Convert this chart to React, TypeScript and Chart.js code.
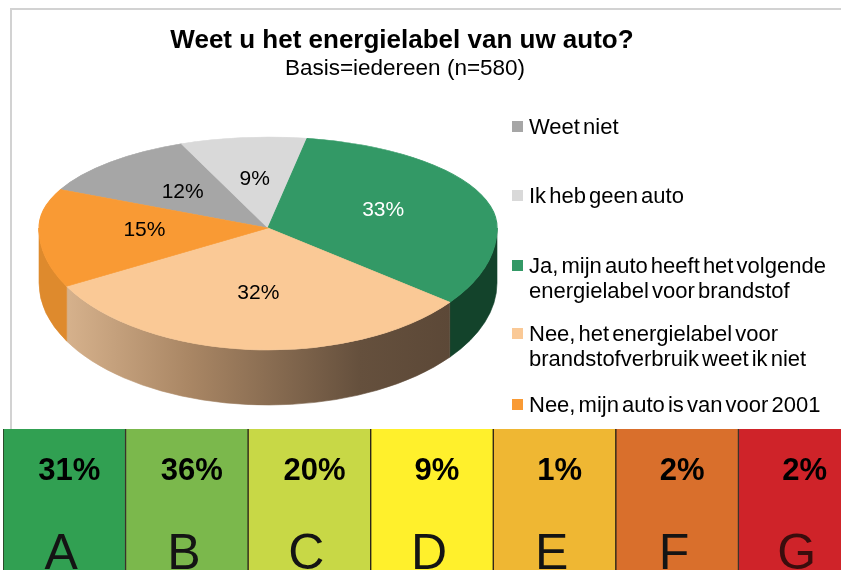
import React, { useEffect, useRef } from 'react';
import { Chart, registerables } from 'chart.js';

Chart.register(...registerables);

// ---- Pie data ----
const pieLabels = [
  'Weet niet',
  'Ik heb geen auto',
  'Ja, mijn auto heeft het volgende energielabel voor brandstof',
  'Nee, het energielabel voor brandstofverbruik weet ik niet',
  'Nee, mijn auto is van voor 2001',
];
const legendLines = [
  ['Weet niet'],
  ['Ik heb geen auto'],
  ['Ja, mijn auto heeft het volgende', 'energielabel voor brandstof'],
  ['Nee, het energielabel voor', 'brandstofverbruik weet ik niet'],
  ['Nee, mijn auto is van voor 2001'],
];
const pieValues = [12, 9, 33, 32, 15];
const pieColors = ['#a6a6a6', '#d9d9d9', '#339966', '#fac996', '#f99a34'];
const pieSideColors = ['#7a7a7a', '#a8a8a8', '#13432b', 'gradient', '#de8a2d'];
const pieLabelColors = ['#000000', '#000000', '#ffffff', '#000000', '#000000'];

// ---- Energy label strip data ----
const energyLabels = ['A', 'B', 'C', 'D', 'E', 'F', 'G'];
const energyShares = [31, 36, 20, 9, 1, 2, 2];
const energyColors = ['#31a052', '#7bb84c', '#c8d846', '#fff02c', '#efb733', '#d96f2c', '#cf2329'];
const energyCellFill = [1, 1, 1, 1, 1, 1, 1];

// ---- Layout constants (3D look: back half flatter than front half) ----
const CX = 268;
const SPLIT_Y = 228;
const RX = 229;
const RY_BACK = 91;
const RY_FRONT = 122;
const DEPTH = 55;
const LEGEND_TOPS = [114, 183, 253, 321, 392];
const FONT = '"Liberation Sans", Arial, Helvetica, sans-serif';

function applyFaceTransform(ctx: CanvasRenderingContext2D, arc: any, ry: number) {
  ctx.translate(CX, SPLIT_Y);
  ctx.scale(RX / arc.outerRadius, ry / arc.outerRadius);
  ctx.translate(-arc.x, -arc.y);
}

const pie3dPlugin = {
  id: 'pie3d',
  beforeDatasetsDraw(chart: any) {
    const ctx = chart.ctx as CanvasRenderingContext2D;
    const arcs = chart.getDatasetMeta(0).data as any[];
    if (!arcs.length) return;
    // sides (front half only)
    ctx.save();
    const grad = ctx.createLinearGradient(CX - RX, 0, CX + RX, 0);
    grad.addColorStop(0, '#e0bb95');
    grad.addColorStop(0.33, '#a98664');
    grad.addColorStop(0.7, '#65503d');
    grad.addColorStop(1, '#574434');
    arcs.forEach((arc, i) => {
      const s = arc.startAngle;
      const e = arc.endAngle;
      for (const k of [-2, 0, 2]) {
        const a = Math.max(s, k * Math.PI);
        const b = Math.min(e, k * Math.PI + Math.PI);
        if (b > a) {
          ctx.beginPath();
          ctx.ellipse(CX, SPLIT_Y, RX, RY_FRONT, 0, a, b, false);
          ctx.ellipse(CX, SPLIT_Y + DEPTH, RX, RY_FRONT, 0, b, a, true);
          ctx.closePath();
          const fill = pieSideColors[i] === 'gradient' ? grad : pieSideColors[i];
          ctx.fillStyle = fill as any;
          ctx.strokeStyle = fill as any;
          ctx.lineWidth = 0.6;
          ctx.fill();
          ctx.stroke();
        }
      }
    });
    ctx.restore();
    // back half of the top face: library circle mapped onto a flat half-ellipse
    ctx.save();
    applyFaceTransform(ctx, arcs[0], RY_BACK);
  },
  afterDatasetsDraw(chart: any) {
    const ctx = chart.ctx as CanvasRenderingContext2D;
    const meta = chart.getDatasetMeta(0);
    const arcs = meta.data as any[];
    if (!arcs.length) return;
    ctx.restore();
    // front half of the top face
    ctx.save();
    ctx.beginPath();
    ctx.rect(0, SPLIT_Y, chart.width, chart.height - SPLIT_Y);
    ctx.clip();
    applyFaceTransform(ctx, arcs[0], RY_FRONT);
    meta.controller.draw();
    ctx.restore();
    // value labels
    ctx.save();
    ctx.font = `21px ${FONT}`;
    ctx.textAlign = 'center';
    ctx.textBaseline = 'middle';
    const values = chart.data.datasets[0].data as number[];
    arcs.forEach((arc, i) => {
      const mid = (arc.startAngle + arc.endAngle) / 2;
      const f = 0.54;
      const s = Math.sin(mid);
      const x = CX + RX * f * Math.cos(mid);
      const y = SPLIT_Y + (s < 0 ? RY_BACK : RY_FRONT) * f * s;
      ctx.fillStyle = pieLabelColors[i];
      ctx.fillText(`${values[i]}%`, x, y);
    });
    ctx.restore();
  },
};

const energyTextPlugin = {
  id: 'energyText',
  afterDatasetsDraw(chart: any) {
    const ctx = chart.ctx as CanvasRenderingContext2D;
    const xs = chart.scales.x;
    const area = chart.chartArea;
    ctx.save();
    ctx.textAlign = 'center';
    energyLabels.forEach((lab, i) => {
      const x = xs.getPixelForValue(i);
      ctx.fillStyle = '#000000';
      ctx.font = `bold 31px ${FONT}`;
      ctx.textBaseline = 'middle';
      ctx.fillText(`${energyShares[i]}%`, x + 5, area.top + 42);
      ctx.font = `50px ${FONT}`;
      ctx.textBaseline = 'alphabetic';
      ctx.fillStyle = i === 6 ? '#3a0d0d' : '#141414';
      ctx.fillText(lab, x - 3, area.top + 140);
    });
    ctx.restore();
  },
};

export default function App() {
  const pieRef = useRef<HTMLCanvasElement | null>(null);
  const barRef = useRef<HTMLCanvasElement | null>(null);

  useEffect(() => {
    if (!pieRef.current || !barRef.current) return;
    const pie = new Chart(pieRef.current, {
      type: 'pie',
      data: {
        labels: pieLabels,
        datasets: [
          {
            data: pieValues,
            backgroundColor: pieColors,
            borderColor: pieColors,
            borderWidth: 1,
            clip: false,
          } as any,
        ],
      },
      options: {
        responsive: false,
        animation: false,
        events: [],
        rotation: -65,
        layout: { padding: 12 },
        plugins: { legend: { display: false }, tooltip: { enabled: false }, title: { display: false } },
      },
      plugins: [pie3dPlugin],
    });

    const bar = new Chart(barRef.current, {
      type: 'bar',
      data: {
        labels: energyLabels,
        datasets: [
          {
            data: energyCellFill,
            backgroundColor: energyColors,
            borderColor: '#2a2118',
            borderWidth: { left: 1, right: 1, top: 0, bottom: 0 },
            borderSkipped: false,
            barPercentage: 1,
            categoryPercentage: 1,
          } as any,
        ],
      },
      options: {
        responsive: false,
        animation: false,
        events: [],
        layout: { padding: 0 },
        plugins: { legend: { display: false }, tooltip: { enabled: false } },
        scales: {
          x: { display: false },
          y: { display: false, min: 0, max: 1 },
        },
      },
      plugins: [energyTextPlugin],
    });

    return () => {
      pie.destroy();
      bar.destroy();
    };
  }, []);

  return (
    <div
      style={{
        position: 'absolute',
        left: 0,
        top: 0,
        width: 841,
        height: 570,
        overflow: 'hidden',
        background: '#ffffff',
        fontFamily: FONT,
      }}
    >
      <div
        style={{
          position: 'absolute',
          left: 10,
          top: 8,
          width: 840,
          height: 421,
          borderTop: '2px solid #d2d2d2',
          borderLeft: '2px solid #d2d2d2',
          boxSizing: 'border-box',
        }}
      />
      <canvas
        ref={pieRef}
        width={841}
        height={429}
        style={{ position: 'absolute', left: 0, top: 0, width: 841, height: 429 }}
      />
      <div
        style={{
          position: 'absolute',
          left: 0,
          top: 24,
          width: 804,
          textAlign: 'center',
          fontSize: 26,
          lineHeight: '30px',
          fontWeight: 'bold',
          color: '#000',
          whiteSpace: 'nowrap',
        }}
      >
        Weet u het energielabel van uw auto?
      </div>
      <div
        style={{
          position: 'absolute',
          left: 0,
          top: 55,
          width: 810,
          textAlign: 'center',
          fontSize: 22.5,
          lineHeight: '25px',
          color: '#000',
          whiteSpace: 'nowrap',
        }}
      >
        Basis=iedereen (n=580)
      </div>
      {legendLines.map((lines, i) => (
        <div
          key={i}
          style={{ position: 'absolute', left: 512, top: LEGEND_TOPS[i], whiteSpace: 'nowrap' }}
        >
          <div
            style={{
              position: 'absolute',
              left: 0,
              top: 7,
              width: 11,
              height: 11,
              background: pieColors[i],
            }}
          />
          <div
            style={{
              marginLeft: 17,
              fontSize: 22,
              lineHeight: '25px',
              wordSpacing: -3,
              color: '#000',
            }}
          >
            {lines.map((l, j) => (
              <div key={j}>{l}</div>
            ))}
          </div>
        </div>
      ))}
      <canvas
        ref={barRef}
        width={858}
        height={141}
        style={{ position: 'absolute', left: 3, top: 429, width: 858, height: 141 }}
      />
    </div>
  );
}
